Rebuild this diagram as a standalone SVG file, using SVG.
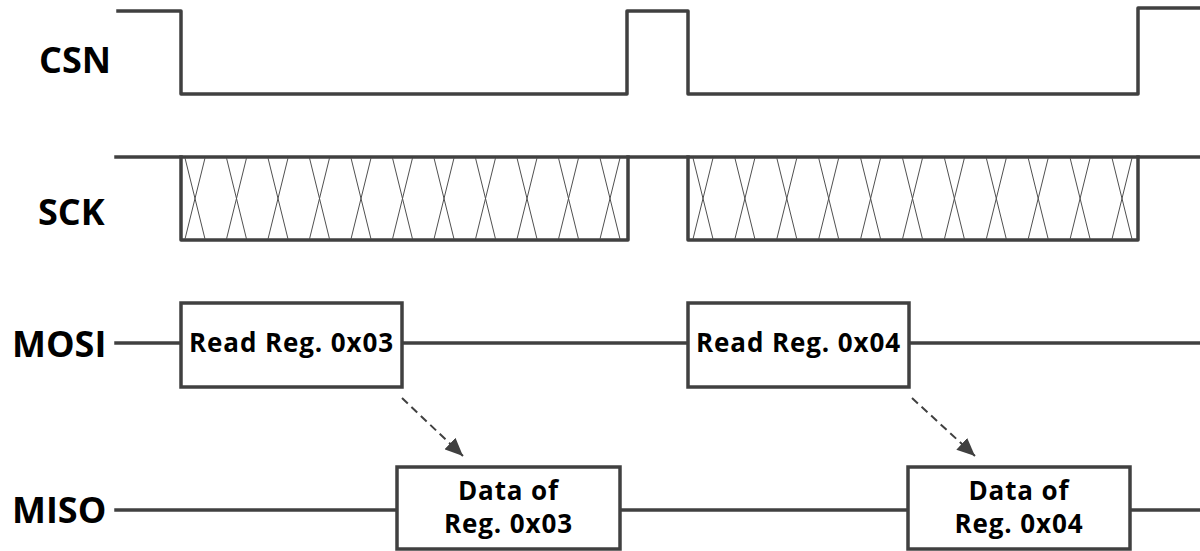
<svg xmlns="http://www.w3.org/2000/svg" width="1200" height="551" viewBox="0 0 1200 551">
  <style>
    .sig { fill: none; stroke: #404040; stroke-width: 3.5; stroke-linejoin: round; stroke-linecap: square; }
    .hatch { fill: none; stroke: #505050; stroke-width: 1; }
    .box { fill: #ffffff; stroke: #404040; stroke-width: 3.5; }
    .dash { fill: none; stroke: #404040; stroke-width: 2; stroke-dasharray: 8 5; }
    .lbl { font-family: "Open Sans", "Noto Sans", sans-serif; font-weight: bold; font-size: 36px; fill: #000; }
    .txt { font-family: "Open Sans", "Noto Sans", sans-serif; font-weight: bold; font-size: 26px; letter-spacing: 0.9px; fill: #000; text-anchor: middle; }
  </style>
  <defs>
    <marker id="arr" markerUnits="userSpaceOnUse" markerWidth="20" markerHeight="16" refX="18" refY="8" orient="auto">
      <path d="M0,0 L18,8 L0,16 z" fill="#404040"/>
    </marker>
  </defs>

  <g id="label-csn"><text class="lbl" x="39" y="73">CSN</text></g>
  <g id="label-sck"><text class="lbl" x="38" y="225">SCK</text></g>
  <g id="label-mosi"><text class="lbl" x="12" y="357">MOSI</text></g>
  <g id="label-miso"><text class="lbl" x="12" y="523">MISO</text></g>

  <g id="connectors">
    <!-- CSN waveform -->
    <polyline class="sig" points="118,11 181,11 181,94 627,94 627,11 688,11 688,94 1138,94 1138,8 1202,8"/>
    <!-- SCK waveform -->
    <line class="sig" x1="116" y1="157" x2="1202" y2="157"/>
    <polyline class="sig" points="181,157 181,240 628,240 628,157"/>
    <polyline class="sig" points="688,157 688,240 1138,240 1138,157"/>
    <path class="hatch" d="M185,158 L205,239 M205,158 L185,239 M226.5,158 L246.5,239 M246.5,158 L226.5,239 M268,158 L288,239 M288,158 L268,239 M309.5,158 L329.5,239 M329.5,158 L309.5,239 M351,158 L371,239 M371,158 L351,239 M392.5,158 L412.5,239 M412.5,158 L392.5,239 M434,158 L454,239 M454,158 L434,239 M475.5,158 L495.5,239 M495.5,158 L475.5,239 M517,158 L537,239 M537,158 L517,239 M558.5,158 L578.5,239 M578.5,158 L558.5,239 M600,158 L620,239 M620,158 L600,239"/>
    <path class="hatch" d="M693,158 L713,239 M713,158 L693,239 M734.9,158 L754.9,239 M754.9,158 L734.9,239 M776.8,158 L796.8,239 M796.8,158 L776.8,239 M818.7,158 L838.7,239 M838.7,158 L818.7,239 M860.6,158 L880.6,239 M880.6,158 L860.6,239 M902.5,158 L922.5,239 M922.5,158 L902.5,239 M944.4,158 L964.4,239 M964.4,158 L944.4,239 M986.3,158 L1006.3,239 M1006.3,158 L986.3,239 M1028.2,158 L1048.2,239 M1048.2,158 L1028.2,239 M1070.1,158 L1090.1,239 M1090.1,158 L1070.1,239 M1112,158 L1132,239 M1132,158 L1112,239"/>
    <!-- MOSI line -->
    <line class="sig" x1="116" y1="343" x2="1202" y2="343"/>
    <!-- MISO line -->
    <line class="sig" x1="116" y1="510" x2="1202" y2="510"/>
    <!-- dashed arrows -->
    <line class="dash" x1="402" y1="398" x2="463" y2="456" marker-end="url(#arr)"/>
    <line class="dash" x1="912" y1="398" x2="975" y2="456" marker-end="url(#arr)"/>
  </g>

  <g id="mosi-box-1">
    <rect class="box" x="181" y="303" width="221" height="84"/>
    <text class="txt" x="291.5" y="352">Read Reg. 0x03</text>
  </g>
  <g id="mosi-box-2">
    <rect class="box" x="688" y="303" width="221" height="84"/>
    <text class="txt" x="798.5" y="352">Read Reg. 0x04</text>
  </g>
  <g id="miso-box-1">
    <rect class="box" x="397" y="467" width="223" height="82"/>
    <text class="txt" x="508.5" y="500">Data of</text>
    <text class="txt" x="508.5" y="533">Reg. 0x03</text>
  </g>
  <g id="miso-box-2">
    <rect class="box" x="908" y="467" width="222" height="82"/>
    <text class="txt" x="1019" y="500">Data of</text>
    <text class="txt" x="1019" y="533">Reg. 0x04</text>
  </g>
</svg>
